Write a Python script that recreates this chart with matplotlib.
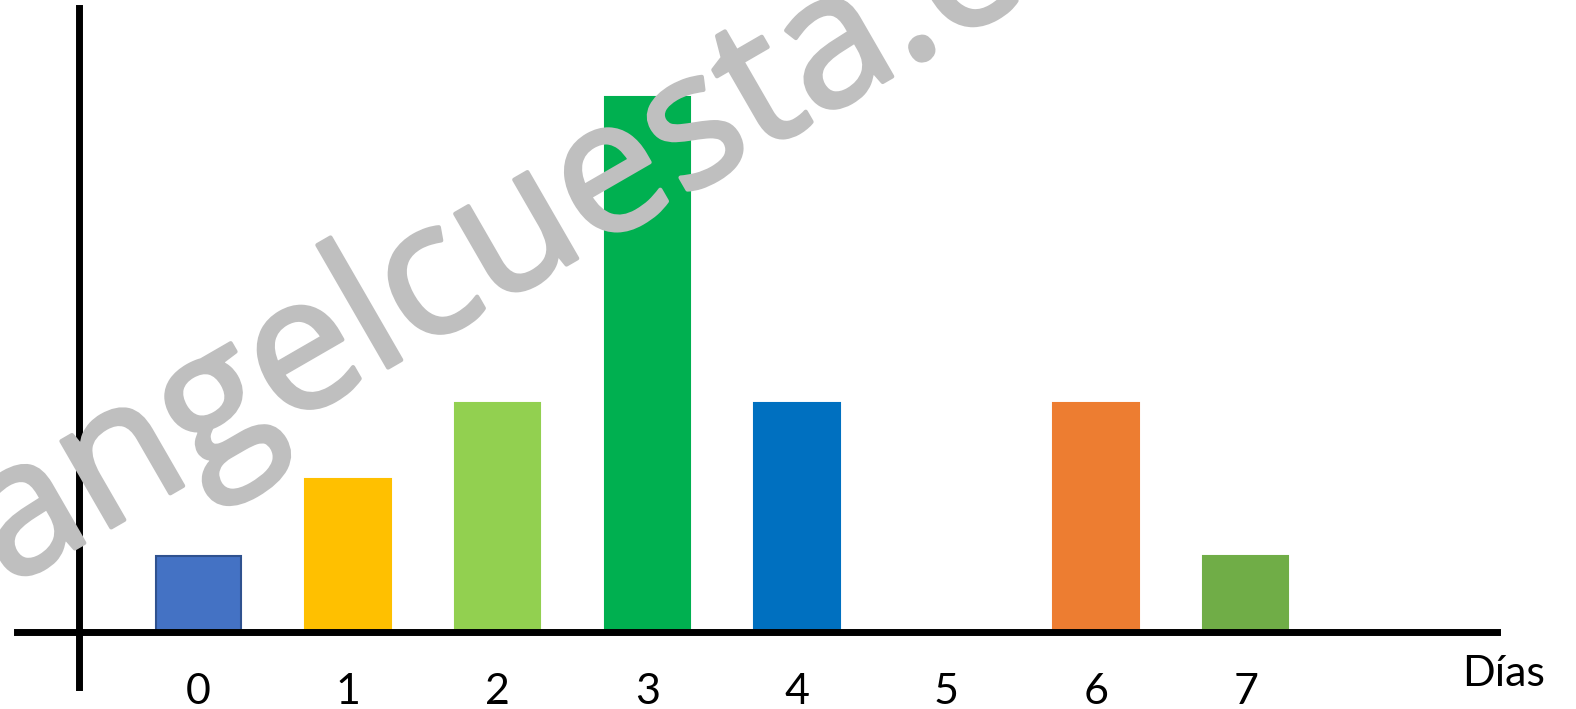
import matplotlib.pyplot as plt
import matplotlib.patheffects as pe

# data
dias = [0, 1, 2, 3, 4, 5, 6, 7]
valores = [1, 2, 3, 7, 3, 0, 3, 1]
colores = ['#4472C4', '#FFC000', '#92D050', '#00B050', '#0070C0',
           '#A5A5A5', '#ED7D31', '#70AD47']
bordes = ['#2F528F'] + colores[1:]

fig = plt.figure(figsize=(15.76, 7.09), dpi=100)
ax = fig.add_axes([0, 0, 1, 1])
ax.set_xlim(-1.327, 9.208)
ax.set_ylim(-1.008, 8.272)

ax.bar(dias, valores, width=0.57, color=colores, edgecolor=bordes,
       linewidth=1.5, zorder=2)

# axis lines
for s in ['top', 'right']:
    ax.spines[s].set_visible(False)
ax.spines['bottom'].set_position(('data', 0))
ax.spines['bottom'].set_bounds(-1.213, 8.68)
ax.spines['left'].set_position(('data', -0.799))
ax.spines['left'].set_bounds(-0.72, 8.168)
for s in ['bottom', 'left']:
    ax.spines[s].set_linewidth(5)
    ax.spines[s].set_zorder(3)
ax.set_xticks([])
ax.set_yticks([])

for d in dias:
    ax.text(d, -0.79, str(d), ha='center', va='center', fontsize=31,
            family='Lato')
ax.text(8.727, -0.55, 'Días', ha='center', va='center', fontsize=31,
        family='Lato')

# watermark
fig.text(0.005, 0.172, 'angelcuesta.com', rotation=30, rotation_mode='anchor',
         ha='left', va='baseline', fontsize=134, color='#BFBFBF',
         family='Open Sans', zorder=1,
         path_effects=[pe.withStroke(linewidth=3, foreground='#BFBFBF',
                                     capstyle='round', joinstyle='round')])

fig.savefig('out.png', dpi=100)
